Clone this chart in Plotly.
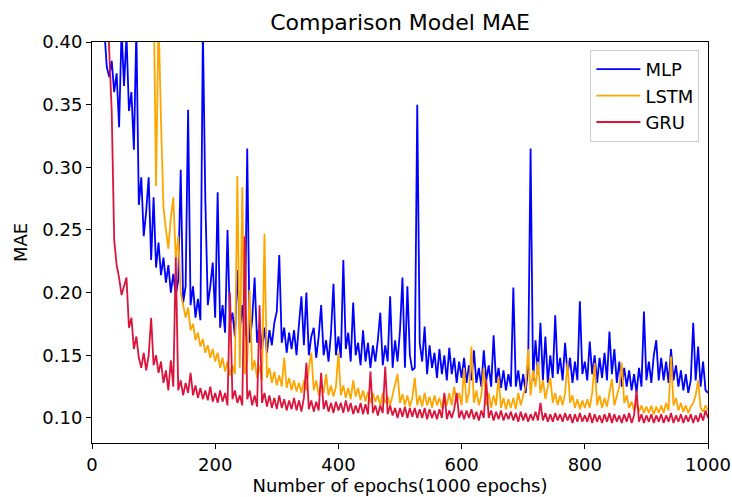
import plotly.graph_objects as go

# Epoch index (every 4 epochs)
epochs = list(range(4, 1001, 4))

mlp_mae = [
    0.65, 0.55, 0.46, 0.405, 0.41, 0.38, 0.372, 0.385, 0.36, 0.375,
    0.332, 0.41, 0.365, 0.405, 0.345, 0.36, 0.314, 0.41, 0.27, 0.292,
    0.245, 0.265, 0.292, 0.226, 0.276, 0.22, 0.24, 0.214, 0.228, 0.208,
    0.222, 0.20, 0.215, 0.198, 0.21, 0.298, 0.192, 0.205, 0.346, 0.19,
    0.205, 0.18, 0.195, 0.178, 0.41, 0.274, 0.19, 0.205, 0.224, 0.18,
    0.28, 0.172, 0.19, 0.168, 0.25, 0.175, 0.184, 0.165, 0.218, 0.17,
    0.19, 0.165, 0.315, 0.16, 0.178, 0.212, 0.16, 0.175, 0.155, 0.172,
    0.152, 0.17, 0.158, 0.176, 0.185, 0.23, 0.16, 0.172, 0.152, 0.168,
    0.155, 0.17, 0.15, 0.175, 0.197, 0.158, 0.20, 0.15, 0.165, 0.172,
    0.148, 0.165, 0.19, 0.15, 0.162, 0.145, 0.168, 0.207, 0.15, 0.165,
    0.148, 0.226, 0.155, 0.168, 0.145, 0.192, 0.15, 0.16, 0.142, 0.17,
    0.145, 0.16, 0.14, 0.158, 0.145, 0.162, 0.184, 0.142, 0.158, 0.145,
    0.197, 0.14, 0.162, 0.145, 0.17, 0.212, 0.14, 0.205, 0.15, 0.138,
    0.14, 0.35, 0.16, 0.145, 0.173, 0.135, 0.158, 0.14, 0.152, 0.132,
    0.155, 0.135, 0.15, 0.13, 0.156, 0.135, 0.148, 0.128, 0.145, 0.132,
    0.148, 0.128, 0.142, 0.13, 0.154, 0.128, 0.14, 0.125, 0.154, 0.13,
    0.142, 0.125, 0.166, 0.128, 0.14, 0.124, 0.138, 0.122, 0.135, 0.125,
    0.204, 0.125, 0.138, 0.122, 0.135, 0.12, 0.14, 0.315, 0.13, 0.162,
    0.135, 0.176, 0.13, 0.165, 0.128, 0.15, 0.132, 0.182, 0.135, 0.148,
    0.13, 0.16, 0.135, 0.148, 0.128, 0.145, 0.13, 0.193, 0.135, 0.145,
    0.13, 0.161, 0.135, 0.15, 0.128, 0.148, 0.132, 0.152, 0.13, 0.169,
    0.135, 0.155, 0.128, 0.145, 0.125, 0.14, 0.125, 0.138, 0.122, 0.135,
    0.12, 0.14, 0.125, 0.185, 0.13, 0.145, 0.128, 0.15, 0.162, 0.13,
    0.148, 0.13, 0.145, 0.128, 0.155, 0.13, 0.142, 0.125, 0.138, 0.122,
    0.135, 0.12, 0.13, 0.176, 0.13, 0.157, 0.125, 0.145, 0.122, 0.12,
]

lstm_mae = [
    0.95, 0.92, 0.89, 0.86, 0.83, 0.80, 0.78, 0.76, 0.74, 0.72,
    0.70, 0.68, 0.66, 0.64, 0.62, 0.60, 0.58, 0.56, 0.55, 0.53,
    0.52, 0.50, 0.49, 0.47, 0.44, 0.285, 0.42, 0.338, 0.268, 0.25,
    0.235, 0.26, 0.276, 0.226, 0.245, 0.20, 0.19, 0.18, 0.188, 0.17,
    0.175, 0.162, 0.168, 0.157, 0.163, 0.152, 0.158, 0.148, 0.155, 0.145,
    0.152, 0.14, 0.148, 0.137, 0.145, 0.134, 0.142, 0.135, 0.293, 0.14,
    0.284, 0.135, 0.145, 0.202, 0.138, 0.146, 0.132, 0.142, 0.13, 0.247,
    0.132, 0.14, 0.128, 0.137, 0.126, 0.134, 0.125, 0.148, 0.124, 0.132,
    0.122, 0.13, 0.121, 0.128, 0.12, 0.13, 0.122, 0.14, 0.152, 0.122,
    0.13, 0.118, 0.127, 0.12, 0.135, 0.118, 0.126, 0.117, 0.125, 0.152,
    0.118, 0.126, 0.116, 0.124, 0.115, 0.13, 0.117, 0.124, 0.114, 0.122,
    0.113, 0.121, 0.112, 0.12, 0.113, 0.118, 0.11, 0.12, 0.112, 0.117,
    0.11, 0.118, 0.128, 0.135, 0.112, 0.119, 0.11, 0.118, 0.109, 0.116,
    0.132, 0.11, 0.118, 0.109, 0.12, 0.11, 0.117, 0.108, 0.118, 0.11,
    0.116, 0.108, 0.118, 0.11, 0.12, 0.11, 0.125, 0.112, 0.12, 0.11,
    0.14, 0.112, 0.12, 0.157, 0.112, 0.122, 0.11, 0.118, 0.14, 0.11,
    0.12, 0.108, 0.118, 0.11, 0.133, 0.108, 0.116, 0.107, 0.115, 0.108,
    0.116, 0.107, 0.12, 0.11, 0.118, 0.125, 0.155, 0.118, 0.138, 0.125,
    0.145, 0.12, 0.13, 0.115, 0.125, 0.132, 0.112, 0.12, 0.11, 0.118,
    0.11, 0.12, 0.144, 0.112, 0.118, 0.108, 0.115, 0.107, 0.114, 0.108,
    0.115, 0.108, 0.12, 0.144, 0.11, 0.118, 0.108, 0.116, 0.109, 0.12,
    0.131, 0.11, 0.118, 0.125, 0.144, 0.112, 0.118, 0.108, 0.113, 0.106,
    0.112, 0.105, 0.11, 0.104, 0.109, 0.104, 0.11, 0.103, 0.109, 0.104,
    0.11, 0.104, 0.112, 0.106, 0.149, 0.11, 0.116, 0.106, 0.112, 0.105,
    0.11, 0.104, 0.109, 0.112, 0.118, 0.13, 0.108, 0.105, 0.11, 0.106,
]

gru_mae = [
    0.75, 0.66, 0.58, 0.51, 0.45, 0.44, 0.39, 0.345, 0.242, 0.222,
    0.212, 0.198, 0.205, 0.212, 0.172, 0.18, 0.155, 0.165, 0.148, 0.14,
    0.152, 0.138, 0.15, 0.18, 0.142, 0.15, 0.136, 0.145, 0.128, 0.138,
    0.122, 0.146, 0.125, 0.228, 0.122, 0.13, 0.118, 0.128, 0.12, 0.136,
    0.118, 0.126, 0.116, 0.124, 0.115, 0.122, 0.114, 0.125, 0.113, 0.12,
    0.112, 0.122, 0.113, 0.12, 0.11, 0.20, 0.115, 0.122, 0.112, 0.118,
    0.11, 0.245, 0.115, 0.122, 0.11, 0.118, 0.109, 0.19, 0.112, 0.12,
    0.109, 0.118, 0.108, 0.116, 0.107, 0.118, 0.108, 0.115, 0.106, 0.114,
    0.107, 0.116, 0.106, 0.114, 0.105, 0.116, 0.144, 0.107, 0.114, 0.105,
    0.113, 0.106, 0.136, 0.107, 0.114, 0.105, 0.112, 0.104, 0.113, 0.106,
    0.112, 0.104, 0.114, 0.105, 0.112, 0.103, 0.11, 0.104, 0.112, 0.103,
    0.111, 0.103, 0.137, 0.104, 0.11, 0.102, 0.11, 0.104, 0.141, 0.103,
    0.11, 0.102, 0.108, 0.10, 0.108, 0.101, 0.109, 0.10, 0.108, 0.101,
    0.108, 0.10, 0.107, 0.10, 0.108, 0.099, 0.107, 0.10, 0.106, 0.099,
    0.107, 0.10, 0.12, 0.099, 0.106, 0.10, 0.107, 0.12, 0.10, 0.106,
    0.099, 0.106, 0.10, 0.107, 0.099, 0.105, 0.098, 0.106, 0.10, 0.13,
    0.10, 0.106, 0.098, 0.105, 0.099, 0.106, 0.098, 0.104, 0.099, 0.105,
    0.098, 0.104, 0.097, 0.105, 0.098, 0.104, 0.097, 0.103, 0.098, 0.105,
    0.098, 0.112, 0.098, 0.104, 0.097, 0.103, 0.097, 0.104, 0.098, 0.103,
    0.097, 0.104, 0.098, 0.103, 0.096, 0.103, 0.097, 0.104, 0.097, 0.102,
    0.097, 0.104, 0.096, 0.103, 0.097, 0.102, 0.096, 0.103, 0.097, 0.104,
    0.096, 0.103, 0.097, 0.102, 0.096, 0.103, 0.097, 0.104, 0.096, 0.102,
    0.122, 0.097, 0.103, 0.096, 0.102, 0.097, 0.103, 0.096, 0.102, 0.097,
    0.103, 0.096, 0.102, 0.097, 0.104, 0.096, 0.102, 0.097, 0.103, 0.096,
    0.102, 0.097, 0.103, 0.096, 0.102, 0.097, 0.104, 0.098, 0.106, 0.10,
]

series_names = ["MLP", "LSTM", "GRU"]
series_colors = ["#0000ff", "#ffa500", "#dc143c"]
y_tick_vals = [0.10, 0.15, 0.20, 0.25, 0.30, 0.35, 0.40]
x_tick_vals = [0, 200, 400, 600, 800, 1000]

FONT = "DejaVu Sans"

fig = go.Figure()
for name, vals, col in zip(series_names, [mlp_mae, lstm_mae, gru_mae], series_colors):
    fig.add_trace(go.Scatter(
        x=epochs, y=vals, mode="lines", name=name,
        line=dict(color=col, width=1.8),
    ))

axis_common = dict(
    showline=True, linecolor="black", linewidth=1, mirror=True,
    ticks="outside", ticklen=5, tickwidth=1, tickcolor="black",
    showgrid=False, zeroline=False, automargin=False,
    tickfont=dict(family=FONT, size=18, color="black"),
)

fig.update_layout(
    width=732, height=497,
    margin=dict(l=92, r=24, t=42, b=54),
    paper_bgcolor="white", plot_bgcolor="white",
    font=dict(family=FONT, color="black"),
    title=dict(text="Comparison Model MAE", x=400 / 732, xanchor="center",
               y=1 - 22 / 497, yanchor="middle",
               font=dict(family=FONT, size=22, color="black")),
    xaxis=dict(range=[0, 1000], tickvals=x_tick_vals,
               title=dict(text="Number of epochs(1000 epochs)", standoff=4,
                          font=dict(family=FONT, size=18, color="black")),
               **axis_common),
    yaxis=dict(range=[0.08, 0.40], tickvals=y_tick_vals, tickformat=".2f",
               title=dict(text="MAE", standoff=10,
                          font=dict(family=FONT, size=18, color="black")),
               **axis_common),
    legend=dict(x=0.986, y=0.98, xanchor="right", yanchor="top",
                bgcolor="white", bordercolor="#cccccc", borderwidth=1,
                itemwidth=44,
                font=dict(family=FONT, size=18, color="black")),
    showlegend=True,
)

fig.write_html("out.html", config={"displayModeBar": False},
               post_script="document.body.style.margin='0';")
